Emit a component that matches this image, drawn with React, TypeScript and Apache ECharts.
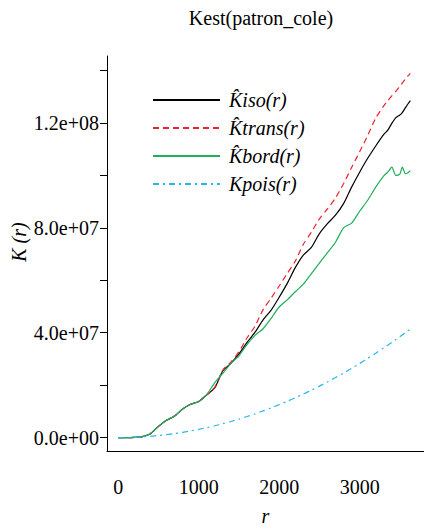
import React, { useEffect, useRef } from "react";
import * as echarts from "echarts";

const rValues = [0, 100, 200, 300, 400, 500, 600, 700, 800, 900, 1000, 1100, 1200, 1300, 1400, 1500, 1600, 1700, 1800, 1900, 2000, 2100, 2200, 2300, 2400, 2500, 2600, 2700, 2800, 2900, 3000, 3100, 3200, 3300, 3350, 3400, 3450, 3500, 3530, 3570, 3600, 3630];

// values in millions
const kiso = [0, 0, 0.1, 0.4, 1.5, 4.3, 6.6, 8.2, 10.9, 12.7, 13.8, 16.3, 19.0, 25.5, 28.3, 31.9, 36.3, 40.2, 44.9, 48.6, 53.5, 58.8, 64.8, 69.6, 72.5, 77.8, 81.6, 84.8, 89.2, 95.5, 101.2, 106.5, 111.2, 115.6, 117.2, 119.8, 122.0, 123.0, 123.9, 125.8, 127.2, 128.5];
const ktrans = [0, 0, 0.1, 0.4, 1.5, 4.3, 6.6, 8.2, 10.9, 12.7, 13.8, 16.3, 19.3, 25.8, 28.8, 32.8, 38.0, 42.5, 48.8, 53.2, 57.8, 62.6, 67.3, 73.7, 78.3, 83.4, 87.2, 91.4, 96.8, 103.0, 109.0, 115.2, 121.8, 126.5, 128.4, 130.3, 132.0, 134.0, 135.2, 136.8, 137.9, 138.9];
const kbord = [0, 0, 0.1, 0.4, 1.5, 4.3, 6.6, 8.2, 10.9, 12.7, 13.8, 16.5, 21.0, 24.5, 28.3, 31.2, 35.5, 39.0, 41.5, 45.5, 49.8, 52.5, 55.6, 58.5, 62.5, 66.5, 70.5, 74.5, 80.0, 81.8, 86.3, 90.5, 95.5, 99.8, 101.2, 103.1, 100.0, 100.5, 103.1, 100.6, 101.0, 101.8];
const kpois = [0, 0.031, 0.126, 0.283, 0.503, 0.785, 1.131, 1.539, 2.011, 2.545, 3.142, 3.801, 4.524, 5.309, 6.158, 7.069, 8.042, 9.079, 10.179, 11.341, 12.566, 13.854, 15.205, 16.619, 18.096, 19.635, 21.237, 22.902, 24.63, 26.421, 28.274, 30.191, 32.17, 34.212, 35.257, 36.317, 37.393, 38.485, 39.147, 40.039, 40.715, 41.396];

const seriesNames = ["K\u0302iso(r)", "K\u0302trans(r)", "K\u0302bord(r)", "Kpois(r)"];
const xTickLabels = [0, 1000, 2000, 3000];
const yTickLabels = [0, 4e7, 8e7, 1.2e8];
const yTicks = [0, 2e7, 4e7, 6e7, 8e7, 1e8, 1.2e8, 1.4e8];

const FONT = "'Liberation Serif', 'Times New Roman', serif";

function fmtExp(v: number): string {
  const s = v.toExponential(1);
  const [m, e] = s.split("e");
  const sign = e[0] === "-" ? "-" : "+";
  const digits = e.replace(/[+-]/, "").padStart(2, "0");
  return `${m}e${sign}${digits}`;
}

const toPairs = (vals: number[]) => rValues.map((r, i) => [r, vals[i] * 1e6]);

export default function App() {
  const ref = useRef<HTMLDivElement>(null);
  useEffect(() => {
    if (!ref.current) return;
    const chart = echarts.init(ref.current, undefined, { renderer: "svg" });
    const mk = (name: string, vals: number[], color: string, type: any) => ({
      name,
      type: "line",
      data: toPairs(vals),
      symbol: "none",
      showSymbol: false,
      smooth: 0.25,
      lineStyle: { color, width: 1.2, type },
      itemStyle: { color },
    });
    chart.setOption({
      animation: false,
      backgroundColor: "#ffffff",
      graphic: [
        {
          type: "text",
          x: 261,
          y: 18,
          style: {
            text: "Kest(patron_cole)",
            font: `20px ${FONT}`,
            fill: "#000",
            textAlign: "center",
            textVerticalAlign: "middle",
          },
        },
        {
          type: "text",
          x: 19,
          y: 242,
          rotation: Math.PI / 2,
          style: {
            text: "K (r)",
            font: `italic 20px ${FONT}`,
            fill: "#000",
            textAlign: "center",
            textVerticalAlign: "middle",
          },
        },
      ],
      grid: { left: 107, right: 0, top: 56, bottom: 76 },
      legend: {
        orient: "vertical",
        left: 152,
        top: 90,
        padding: 0,
        itemWidth: 67,
        itemHeight: 14,
        itemGap: 8,
        itemStyle: { opacity: 0 },
        textStyle: {
          fontFamily: FONT,
          fontStyle: "italic",
          fontSize: 20,
          lineHeight: 20,
          color: "#000",
          padding: [0, 0, 0, 4],
        },
        data: seriesNames,
      },
      xAxis: {
        type: "value",
        min: -140,
        max: 3800,
        splitLine: { show: false },
        axisLine: { show: true, onZero: false, lineStyle: { color: "#000", width: 1 } },
        axisTick: { show: false },
        axisLabel: {
          customValues: xTickLabels,
          margin: 26,
          fontFamily: FONT,
          fontSize: 20,
          color: "#000",
          formatter: (v: number) => String(v),
        },
        name: "r",
        nameLocation: "middle",
        nameGap: 55,
        nameTextStyle: { fontFamily: FONT, fontStyle: "italic", fontSize: 20, color: "#000" },
      },
      yAxis: {
        type: "value",
        min: -5.1e6,
        max: 1.455e8,
        splitLine: { show: false },
        axisLine: { show: true, onZero: false, lineStyle: { color: "#000", width: 1 } },
        axisTick: { show: true, customValues: yTicks, length: 7, lineStyle: { color: "#000" } },
        axisLabel: {
          customValues: yTickLabels,
          margin: 8,
          fontFamily: FONT,
          fontSize: 20,
          color: "#000",
          formatter: (v: number) => fmtExp(v),
        },
      },
      series: [
        mk(seriesNames[0], kiso, "#000000", "solid"),
        mk(seriesNames[1], ktrans, "#f0202c", [6, 4]),
        mk(seriesNames[2], kbord, "#1fae5a", "solid"),
        mk(seriesNames[3], kpois, "#26b6ee", [6, 4, 2, 4]),
      ],
    });
    return () => chart.dispose();
  }, []);
  return (
    <div
      ref={ref}
      style={{ position: "absolute", left: 0, top: 0, width: 424, height: 531 }}
    />
  );
}
